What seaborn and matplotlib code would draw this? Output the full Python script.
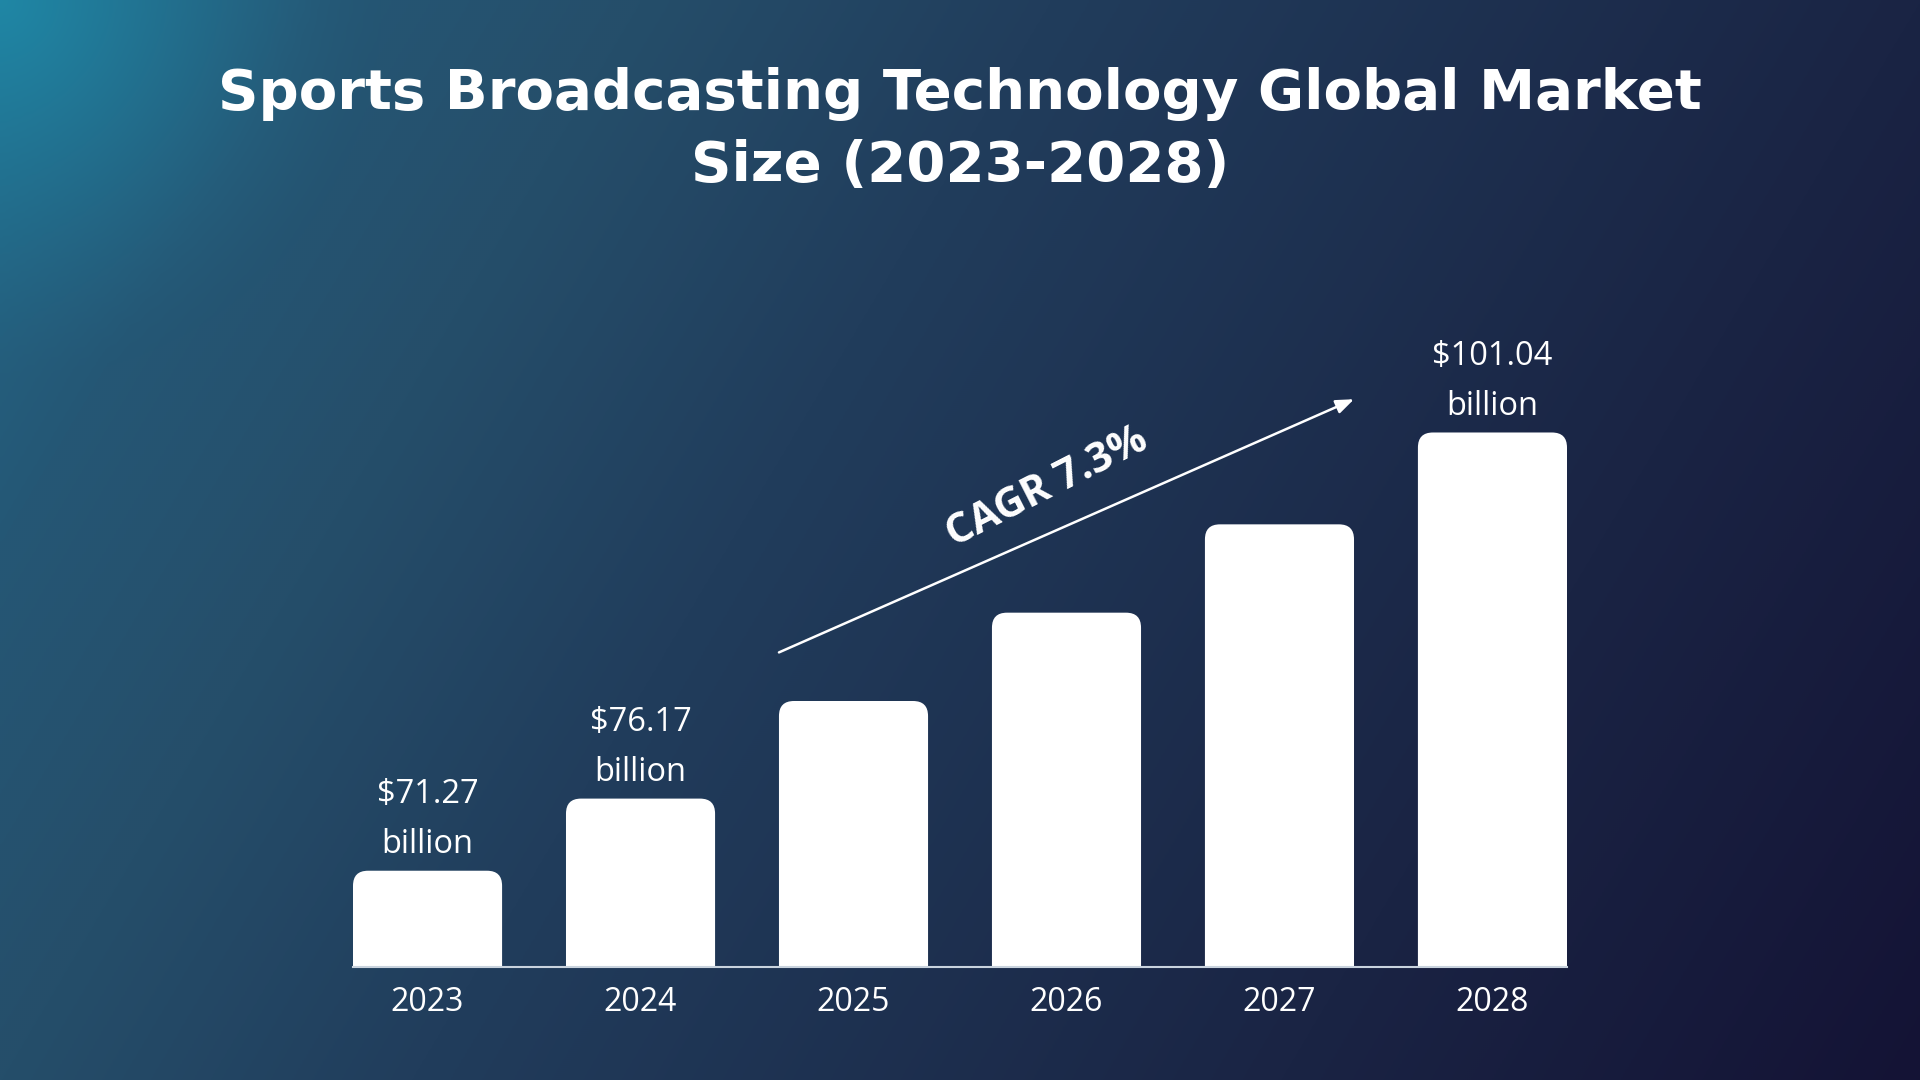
import numpy as np
import pandas as pd
import matplotlib
matplotlib.use("Agg")
import matplotlib.pyplot as plt
import seaborn as sns
from matplotlib.patches import FancyBboxPatch
from matplotlib.colors import LinearSegmentedColormap, to_rgb

# ---- data ----
years = ["2023", "2024", "2025", "2026", "2027", "2028"]
market_size = [71.27, 76.17, 82.8, 88.8, 94.8, 101.04]
value_labels = ["$71.27\nbillion", "$76.17\nbillion", "", "", "", "$101.04\nbillion"]
title = "Sports Broadcasting Technology Global Market\nSize (2023-2028)"
cagr_label = "CAGR 7.3%"

sns.set_theme(style="white")
plt.rcParams['font.family'] = ['Open Sans', 'DejaVu Sans']

fig = plt.figure(figsize=(19.2, 10.8), dpi=100)

# ---- gradient background ----
bg = fig.add_axes([0, 0, 1, 1], zorder=-10)
H, W = 540, 960
yy, xx = np.mgrid[0:H, 0:W]
t = 0.75 * xx / W + 0.25 * yy / H
stops = [(0, '#236a8a'), (0.125, '#255775'), (0.25, '#254e6a'), (0.41, '#213d5c'),
         (0.75, '#1a2444'), (1, '#141335')]
cmap = LinearSegmentedColormap.from_list('bg', stops)
img = cmap(t)[..., :3]
r = np.sqrt((xx / W * 1920) ** 2 + (yy / H * 1080) ** 2)
glow = np.clip(1 - r / 380, 0, 1) ** 1.5
teal = np.array(to_rgb('#1e8eac'))
img = img * (1 - glow[..., None] * 0.8) + teal * glow[..., None] * 0.8
bg.imshow(img, aspect='auto', extent=[0, 1, 0, 1], origin='upper', interpolation='bilinear')
bg.axis('off')

# ---- bars ----
ax = fig.add_axes([353 / 1920, 1 - 967 / 1080, 1214 / 1920, 667 / 1080])
ax.patch.set_alpha(0)
df = pd.DataFrame({'year': years, 'size': market_size})
sns.barplot(data=df, x='year', y='size', color='white', width=0.7, saturation=1, ax=ax)
ax.set_xlim(-0.35, 5.35)
ax.set_ylim(64.73, 110.04)

p0 = ax.transData.transform((0, 0))
p1 = ax.transData.transform((1, 1))
xupp = 1 / (p1[0] - p0[0])
yupp = 1 / (p1[1] - p0[1])
rad_px = 15
ybot = ax.get_ylim()[0] - 3
for bar in list(ax.patches):
    x, w = bar.get_x(), bar.get_width()
    top = bar.get_y() + bar.get_height()
    bar.set_visible(False)
    fb = FancyBboxPatch((x, ybot), w, top - ybot,
                        boxstyle=f"round,pad=0,rounding_size={rad_px * xupp}",
                        mutation_aspect=yupp / xupp,
                        facecolor='white', edgecolor='none', zorder=3)
    ax.add_patch(fb)

for s in ['left', 'right', 'top']:
    ax.spines[s].set_visible(False)
ax.spines['bottom'].set_color('#c9d3de')
ax.spines['bottom'].set_linewidth(1.5)
ax.spines['bottom'].set_zorder(4)
ax.set_yticks([])
ax.set_xlabel('')
ax.set_ylabel('')
ax.tick_params(axis='x', colors='white', labelsize=23, length=0, pad=14)

for i, (v, lab) in enumerate(zip(market_size, value_labels)):
    if lab:
        ax.annotate(lab, (i, v), xytext=(0, 7), textcoords='offset points',
                    ha='center', va='bottom', color='white', fontsize=23.5,
                    linespacing=1.68, annotation_clip=False)

ax.annotate('', xy=(4.35, 103.3), xytext=(1.65, 86.1),
            arrowprops=dict(arrowstyle='-|>,head_length=0.9,head_width=0.35',
                            color='white', lw=1.8, shrinkA=0, shrinkB=0),
            annotation_clip=False)
ax.text(2.908, 97.3, cagr_label, rotation=27, rotation_mode='anchor',
        ha='center', va='center', color='white', fontsize=30, fontweight='bold')

fig.text(0.5, 1 - 130 / 1080, title, ha='center', va='center', fontsize=40.5,
         fontweight='bold', family=['DejaVu Sans'], color='white',
         linespacing=1.42)

fig.savefig('out.png', dpi=100)
